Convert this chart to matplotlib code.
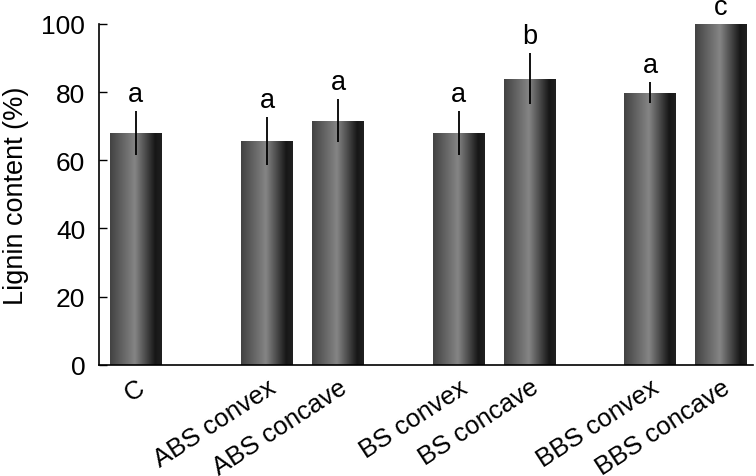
import numpy as np
import matplotlib
matplotlib.use('Agg')
import matplotlib.pyplot as plt
from matplotlib.colors import LinearSegmentedColormap

# data
labels = ['C', 'ABS convex', 'ABS concave', 'BS convex', 'BS concave', 'BBS convex', 'BBS concave']
lignin = [67.9, 65.6, 71.6, 67.9, 83.9, 79.8, 100.0]
err = [6.4, 7.0, 6.4, 6.4, 7.4, 3.0, 0.0]
letters = ['a', 'a', 'a', 'a', 'b', 'a', 'c']

# bar positions (groups with gaps)
xpos = [0, 1.85, 2.85, 4.55, 5.55, 7.25, 8.25]

plt.rcParams['font.family'] = ['Liberation Sans', 'DejaVu Sans']
fs = 19

fig = plt.figure(figsize=(7.56, 4.77), dpi=100)
ax = fig.add_axes([0.131, 0.233, 0.865, 0.715])

# horizontal shading of the bars: dark edges, lighter stripe near the middle
shade = LinearSegmentedColormap.from_list('shade', [
    (0.0, '#424242'), (0.48, '#858585'), (0.87, '#171717'), (1.0, '#202020')])
grad = np.linspace(0, 1, 256).reshape(1, -1)

width = 0.73
bars = ax.bar(xpos, lignin, width=width, color='none', edgecolor='none')
for b in bars:
    x0 = b.get_x()
    im = ax.imshow(grad, cmap=shade, aspect='auto', interpolation='bilinear',
                   extent=[x0, x0 + b.get_width(), 0, b.get_height()], zorder=2)
    im.set_clip_path(b)

ax.errorbar(xpos, lignin, yerr=err, fmt='none', ecolor='black', elinewidth=1.3,
            capsize=0, zorder=3)

for x, v, e, s in zip(xpos, lignin, err, letters):
    ax.annotate(s, (x, v + e), xytext=(0, 3), textcoords='offset points',
                ha='center', va='bottom', fontsize=19.5)

ax.set_xlim(-0.52, 8.7)
ax.set_ylim(0, 100)
ax.set_yticks([0, 20, 40, 60, 80, 100])
ax.tick_params(axis='y', direction='in', length=6, width=1, labelsize=fs, pad=10)
ax.set_xticks(xpos)
ax.set_xticklabels(labels, fontsize=18.5)
ax.tick_params(axis='x', length=0, pad=7)
plt.setp(ax.get_xticklabels(), rotation=33, ha='right', va='top',
         rotation_mode='anchor')

ax.set_ylabel('Lignin content (%)', fontsize=19.5, labelpad=9)
for side in ['top', 'right']:
    ax.spines[side].set_visible(False)
for side in ['left', 'bottom']:
    ax.spines[side].set_linewidth(1.2)

fig.savefig('out.png', dpi=100)
